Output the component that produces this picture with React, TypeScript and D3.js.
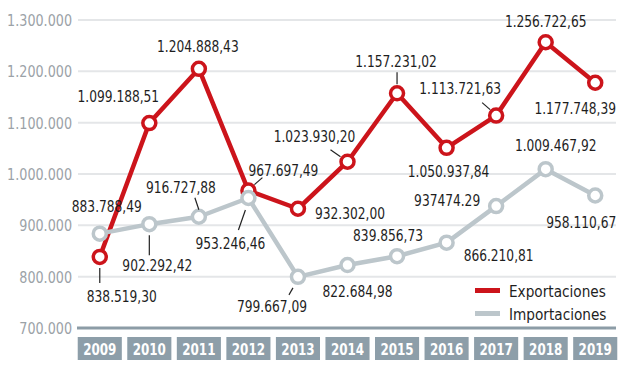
import React from 'react';
import * as d3 from 'd3';

// ==== data

const years = ['2009', '2010', '2011', '2012', '2013', '2014', '2015', '2016', '2017', '2018', '2019'];

const exportaciones = [838519.30, 1099188.51, 1204888.43, 967697.49, 932302.00, 1023930.20, 1157231.02, 1050937.84, 1113721.63, 1256722.65, 1177748.39];
const importaciones = [883788.49, 902292.42, 916727.88, 953246.46, 799667.09, 822684.98, 839856.73, 866210.81, 937474.29, 1009467.92, 958110.67];

const exportLabels = ['838.519,30', '1.099.188,51', '1.204.888,43', '967.697,49', '932.302,00', '1.023.930,20', '1.157.231,02', '1.050.937,84', '1.113.721,63', '1.256.722,65', '1.177.748,39'];
const importLabels = ['883.788,49', '902.292,42', '916.727,88', '953.246,46', '799.667,09', '822.684,98', '839.856,73', '866.210,81', '937474.29', '1.009.467,92', '958.110,67'];

const yTicks = [700000, 800000, 900000, 1000000, 1100000, 1200000, 1300000];

// label placement relative to each point: [dx, dy, leader?]
const exportOffsets = [
    [22, 45, [0, 11, 0, 26]], [-31, -21, null], [-1, -17, null], [35, -15, [14, -13, 6, -6]],
    [52, 10, null], [-33, -20, [-17, -12, -7, -5]], [-1, -26, [0, -21, 0, -9]], [2, 29, null],
    [-36, -22, [-14, -13, -6, -6]], [0, -15, null], [-20, 31, null]
];
const importOffsets = [
    [7, -22, null], [8, 47, [0, 11, 0, 31]], [-18, -24, [-4, -19, 0, -7]], [-18, 51, [-3, 12, -10, 32]],
    [-26, 35, [-5, 11, -9, 18]], [10, 32, null], [-9, -15, null], [52, 18, null],
    [-49, 0, null], [10, -18, null], [-14, 32, null]
];

// ====

const RED = '#cc141b';
const GREY = '#bcc6cb';
const FONT = '"DejaVu Sans Condensed", "DejaVu Sans", sans-serif';

const x = d3.scaleBand().domain(years).range([75, 620]).paddingInner(0.11).paddingOuter(0.055);
const y = d3.scaleLinear().domain([700000, 1300000]).range([328, 20]);
const cx = (yr) => x(yr) + x.bandwidth() / 2;

const fmtTick = (v) => d3.format(',')(v).replace(/,/g, '.');

// narrow text: squeeze horizontally around its anchor point
function Txt({ x: tx, y: ty, sx = 0.85, children, ...rest }) {
    return (
        <text transform={`translate(${tx},${ty}) scale(${sx},1)`} {...rest}>{children}</text>
    );
}

function Series({ values, labels, offsets, color }) {
    const line = d3.line().x((d, i) => cx(years[i])).y((d) => y(d));
    return (
        <g>
            <path d={line(values)} fill="none" stroke={color} strokeWidth={4.5} strokeLinejoin="round" />
            {values.map((v, i) => {
                const px = cx(years[i]);
                const py = y(v);
                const [dx, dy, lead] = offsets[i];
                return (
                    <g key={i}>
                        <circle cx={px} cy={py} r={6.5} fill="#fff" stroke={color} strokeWidth={3.5} />
                        {lead && (
                            <line x1={px + lead[0]} y1={py + lead[1]} x2={px + lead[2]} y2={py + lead[3]}
                                stroke="#222" strokeWidth={1.2} />
                        )}
                        <Txt x={px + dx} y={py + dy} textAnchor="middle" fontSize={16} fill="#1e1e1e">
                            {labels[i]}
                        </Txt>
                    </g>
                );
            })}
        </g>
    );
}

export default function App() {
    return (
        <svg width={623} height={385} style={{ position: 'absolute', left: 0, top: 0, background: '#fff' }}
            fontFamily={FONT}>
            {yTicks.map((t) => (
                <g key={t}>
                    {t > 700000 && (
                        <line x1={78} x2={616} y1={y(t)} y2={y(t)} stroke="#e4e6e8" strokeWidth={2} />
                    )}
                    <Txt x={72} y={y(t) + 6} sx={0.86} textAnchor="end" fontSize={16.5} fill="#9ba2a7">{fmtTick(t)}</Txt>
                </g>
            ))}
            <line x1={77} x2={616} y1={y(700000)} y2={y(700000)} stroke="#8c9ca6" strokeWidth={3} />

            {years.map((yr) => (
                <g key={yr}>
                    <rect x={x(yr)} y={337} width={x.bandwidth()} height={23} fill="#8d9ea9" />
                    <Txt x={cx(yr)} y={354.5} sx={0.83} textAnchor="middle" fontSize={16} fontWeight="bold" fill="#fff">{yr}</Txt>
                </g>
            ))}

            <Series values={exportaciones} labels={exportLabels} offsets={exportOffsets} color={RED} />
            <Series values={importaciones} labels={importLabels} offsets={importOffsets} color={GREY} />

            <rect x={475} y={288} width={25} height={5} fill={RED} />
            <Txt x={509} y={297} sx={0.92} fontSize={16.5} fill="#1e1e1e">Exportaciones</Txt>
            <rect x={475} y={311} width={25} height={5} fill={GREY} />
            <Txt x={509} y={320} sx={0.92} fontSize={16.5} fill="#1e1e1e">Importaciones</Txt>
        </svg>
    );
}
